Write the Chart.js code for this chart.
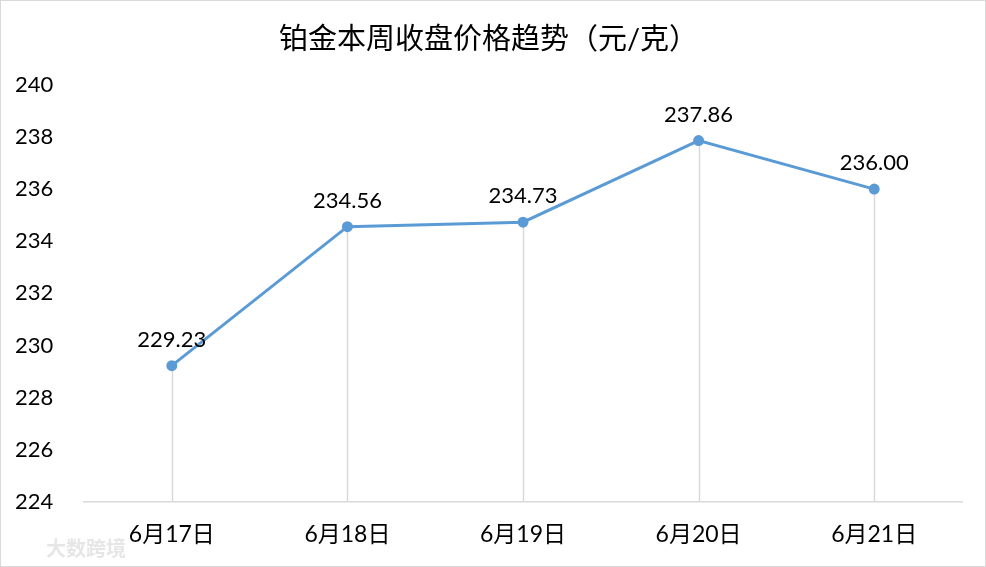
<!DOCTYPE html>
<html>
<head>
<meta charset="utf-8">
<script src="https://cdn.jsdelivr.net/npm/chart.js@4"></script>
<style>
  html, body { margin: 0; padding: 0; background: #fff; }
  #wrap { width: 986px; height: 567px; }
</style>
</head>
<body>
<div id="wrap"><canvas id="chart" width="986" height="567"></canvas></div>
<script>
const days = ["6月17日", "6月18日", "6月19日", "6月20日", "6月21日"];
const closePrices = [229.23, 234.56, 234.73, 237.86, 236.00];
const yTicks = [224, 226, 228, 230, 232, 234, 236, 238, 240];

const fontFamily = "Lato, 'Noto Sans CJK SC', sans-serif";

// white page, thin frame and faint watermark
const framePlugin = {
    id: "frame",
    beforeDraw(chart) {
        const ctx = chart.ctx;
        ctx.save();
        ctx.fillStyle = "#fff";
        ctx.fillRect(0, 0, chart.width, chart.height);
        ctx.strokeStyle = "#d9d9d9";
        ctx.lineWidth = 1;
        ctx.strokeRect(0.5, 0.5, chart.width - 1, chart.height - 1);
        ctx.fillStyle = "#e6e6e6";
        ctx.font = "bold 20px 'Noto Sans CJK SC'";
        ctx.textBaseline = "middle";
        ctx.fillText("大数跨境", 46, 548);
        ctx.restore();
    }
};

// gray drop lines from each point to the x axis, plus value labels
const dropLines = {
    id: "dropLines",
    beforeDatasetsDraw(chart) {
        const ctx = chart.ctx;
        const x = chart.scales.x, y = chart.scales.y;
        ctx.save();
        ctx.strokeStyle = "#d9d9d9";
        ctx.lineWidth = 1.5;
        closePrices.forEach((v, i) => {
            const px = Math.round(x.getPixelForValue(i)) + 0.5;
            ctx.beginPath();
            ctx.moveTo(px, y.getPixelForValue(v));
            ctx.lineTo(px, chart.chartArea.bottom);
            ctx.stroke();
        });
        ctx.restore();
    },
    afterDatasetsDraw(chart) {
        const ctx = chart.ctx;
        const meta = chart.getDatasetMeta(0);
        ctx.save();
        ctx.fillStyle = "#000";
        ctx.font = "22px " + fontFamily;
        ctx.textAlign = "center";
        ctx.textBaseline = "bottom";
        meta.data.forEach((pt, i) => {
            ctx.fillText(closePrices[i].toFixed(2), pt.x, pt.y - 15);
        });
        ctx.restore();
    }
};

new Chart(document.getElementById("chart"), {
    type: "line",
    data: {
        labels: days,
        datasets: [
            {
                label: "收盘价",
                data: closePrices,
                borderColor: "#5b9bd5",
                backgroundColor: "#5b9bd5",
                borderWidth: 3,
                pointRadius: 4,
                pointHoverRadius: 4,
                tension: 0
            }
        ]
    },
    options: {
        responsive: false,
        animation: false,
        layout: {
            padding: { left: 15, right: 24, top: 0, bottom: 0 }
        },
        plugins: {
            legend: { display: false },
            tooltip: { enabled: false },
            title: {
                display: true,
                text: "铂金本周收盘价格趋势（元/克）",
                color: "#000",
                font: { family: fontFamily, size: 29, weight: "normal" },
                padding: { top: 22, bottom: 28 }
            }
        },
        scales: {
            x: {
                offset: true,
                afterFit(scale) {
                    scale.height = 65;
                },
                grid: { display: false, drawTicks: false },
                border: { display: true, color: "#d9d9d9", width: 1.5 },
                ticks: {
                    color: "#000",
                    padding: 19,
                    font: { family: fontFamily, size: 23 }
                }
            },
            y: {
                min: 224,
                max: 240,
                afterBuildTicks(scale) {
                    scale.ticks = yTicks.map(v => ({ value: v }));
                },
                afterFit(scale) {
                    scale.width = 69;
                },
                grid: { display: false, drawTicks: false },
                border: { display: false },
                ticks: {
                    color: "#000",
                    crossAlign: "far",
                    font: { family: fontFamily, size: 22 }
                }
            }
        }
    },
    plugins: [framePlugin, dropLines]
});
</script>
</body>
</html>
